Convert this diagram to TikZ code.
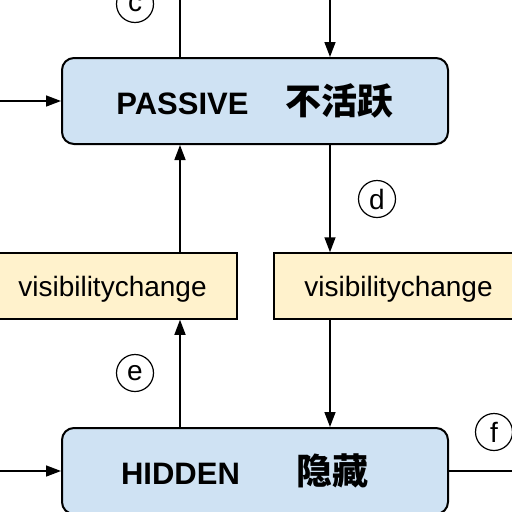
\documentclass[tikz,border=0pt]{standalone}
\usepackage{fontspec}
\setmainfont{Liberation Sans}
\newfontfamily\cjk{Noto Sans CJK SC}
\usepackage{tikz}
\usetikzlibrary{positioning, calc, arrows.meta}

\definecolor{stateblue}{HTML}{CFE2F3}
\definecolor{eventyellow}{HTML}{FFF2CC}

\tikzset{
  state/.style = {draw, line width=2pt, rounded corners=12pt, fill=stateblue,
                  minimum width=386pt, minimum height=86pt, inner sep=0pt,
                  text height=26pt, text depth=0pt,
                  font=\bfseries\fontsize{31}{36}\selectfont},
  event/.style = {draw, line width=1.5pt, fill=eventyellow,
                  minimum width=249pt, minimum height=66pt, inner sep=0pt,
                  text height=20pt, text depth=0pt,
                  font=\fontsize{28}{34}\selectfont},
  tag/.style   = {draw, circle, line width=1.2pt, minimum size=37pt, inner sep=0pt,
                  font=\fontsize{28}{34}\selectfont},
  flow/.style  = {line width=1.5pt, -{Triangle[length=15pt,width=11pt]}},
  link/.style  = {line width=1.5pt}
}

\begin{document}
\begin{tikzpicture}[x=1pt, y=-1pt]
  \useasboundingbox (0,0) rectangle (512,512);

  % states
  \node[state] (passive) at (255,101) {PASSIVE\hspace{37pt}{\cjk\fontsize{36}{40}\selectfont 不活跃}};
  \node[state] (hidden) at (255,471) {HIDDEN\hspace{57pt}{\cjk\fontsize{36}{40}\selectfont 隐藏}\rule{20pt}{0pt}};

  % events
  \node[event] (visLeft) at (112.5,286) {visibilitychange};
  \node[event] (visRight) at (398.5,286) {visibilitychange};

  % columns and loose ends
  \coordinate (colL) at (180,0);
  \coordinate (colR) at (330,0);
  \coordinate (inPassive) at (0,101);
  \coordinate (inHidden) at (0,471);
  \coordinate (outHidden) at (512,471);

  % connectors
  \draw[link] (passive.north -| colL) -- (colL);
  \draw[flow] (colR) -- (passive.north -| colR);
  \draw[flow] (inPassive) -- (passive.west);
  \draw[flow] (visLeft.north -| colL) -- (passive.south -| colL);
  \draw[flow] (passive.south -| colR) -- (visRight.north -| colR);
  \draw[flow] (hidden.north -| colL) -- (visLeft.south -| colL);
  \draw[flow] (visRight.south -| colR) -- (hidden.north -| colR);
  \draw[flow] (inHidden) -- (hidden.west);
  \draw[link] (hidden.east) -- (outHidden);

  % step labels
  \node[tag] (tagC) at (135,4) {c};
  \node[tag] (tagD) at (377,199) {d};
  \node[tag] (tagE) at (135,373) {e};
  \node[tag] (tagF) at (494,432) {f};
\end{tikzpicture}
\end{document}
